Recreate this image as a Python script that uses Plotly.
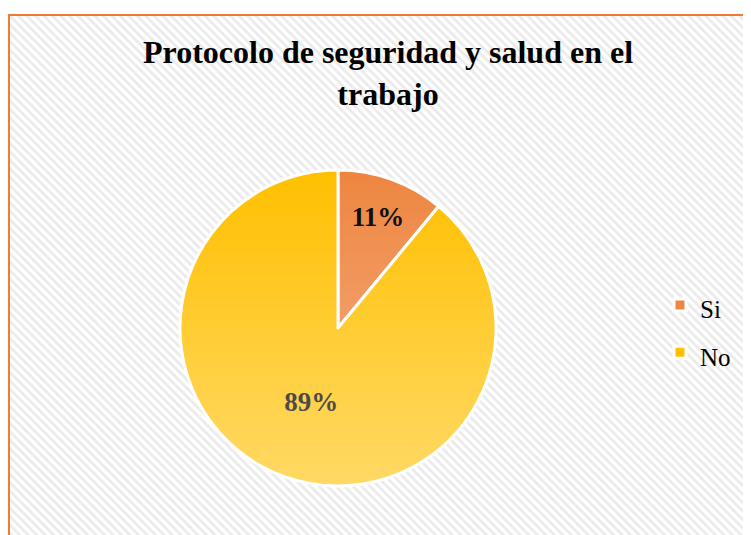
import base64
import plotly.graph_objects as go

# %%
# Protocolo de seguridad y salud en el trabajo - encuesta Si / No
labels = ["Si", "No"]
values = [11, 89]
colors = ["#EE8540", "#FFC000"]

W, H = 751, 535
OFF = 8  # page body margin shifts the figure by 8px

# pie position in pixels (left, top, size) as seen on the page
pie_left, pie_top, pie_size = 180 - OFF, 170 - OFF, 316
pie_x = [pie_left / W, (pie_left + pie_size) / W]
pie_y = [1 - (pie_top + pie_size) / H, 1 - pie_top / H]

# light gradient over the pie (top clear -> bottom lighter), office style
svg = ("<svg xmlns='http://www.w3.org/2000/svg' width='200' height='200' viewBox='0 0 200 200'>"
       "<defs><linearGradient id='g' x1='0' y1='0' x2='0' y2='1'>"
       "<stop offset='0' stop-color='white' stop-opacity='0'/>"
       "<stop offset='1' stop-color='white' stop-opacity='0.4'/>"
       "</linearGradient></defs>"
       "<circle cx='100' cy='100' r='100' fill='url(#g)'/></svg>")
svg_uri = "data:image/svg+xml;base64," + base64.b64encode(svg.encode()).decode()

fig = go.Figure()

# hatched chart area background
fig.add_trace(go.Scatter(
    x=[0, 1, 1, 0, 0], y=[0, 0, 1, 1, 0],
    fill="toself", mode="none",
    fillcolor="white",
    fillpattern=dict(shape="\\", fgcolor="#d5d5d5", bgcolor="white", size=6, solidity=0.45),
    hoverinfo="skip", showlegend=False))

fig.add_trace(go.Pie(
    labels=["<span style='font-size:25px'>%s</span>" % l for l in labels],
    values=values,
    sort=False, direction="clockwise", rotation=0,
    marker=dict(colors=colors, line=dict(color="white", width=3)),
    texttemplate="<b>%{percent:.0%}</b>",
    textposition="inside", insidetextorientation="horizontal",
    textfont=dict(family="Liberation Serif", size=27, color="black"),
    domain=dict(x=pie_x, y=pie_y),
    hoverinfo="percent"))

fig.update_xaxes(domain=[1 / W, 1], range=[0, 1], visible=False, fixedrange=True)
fig.update_yaxes(domain=[0, 1 - (15 - OFF) / H], range=[0, 1], visible=False, fixedrange=True)

fig.add_layout_image(dict(
    source=svg_uri, xref="paper", yref="paper",
    x=pie_x[0], y=pie_y[1], sizex=pie_x[1] - pie_x[0], sizey=pie_y[1] - pie_y[0],
    xanchor="left", yanchor="top", sizing="stretch", layer="above"))

# orange chart border
fig.add_shape(type="rect", xref="paper", yref="paper",
              x0=1 / W, y0=-0.05, x1=1.05, y1=1 - (15 - OFF) / H,
              line=dict(color="#ED7D31", width=2), layer="above")

fig.update_layout(
    width=W, height=H,
    margin=dict(l=0, r=0, t=0, b=0),
    paper_bgcolor="white", plot_bgcolor="white",
    title=dict(text="<b>Protocolo de seguridad y salud en el<br>trabajo</b>",
               x=(388 - OFF) / W, xanchor="center", y=1 - 55 / H, yanchor="middle",
               font=dict(family="Liberation Serif", size=32, color="black")),
    legend=dict(x=(700 - OFF - 40) / W, xanchor="left", y=1 - (329 - OFF) / H, yanchor="middle",
                bgcolor="rgba(0,0,0,0)",
                font=dict(family="Liberation Serif", size=34, color="black")),
)

fig.write_html("out.html")
